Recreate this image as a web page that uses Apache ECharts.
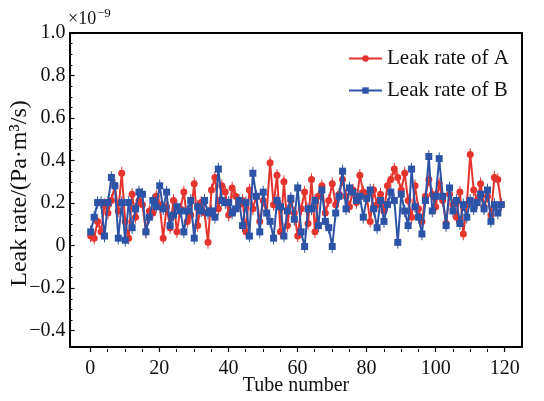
<!DOCTYPE html>
<html>
<head>
<meta charset="utf-8">
<script src="https://cdn.jsdelivr.net/npm/echarts@6/dist/echarts.min.js"></script>
<style>html,body{margin:0;padding:0;background:#fff}#c{width:544px;height:401px}</style>
</head>
<body>
<div id="c"></div>
<script>
const seriesNames = ['Leak rate of A', 'Leak rate of B'];
const xTickLabels = [0, 20, 40, 60, 80, 100, 120];
const yTickLabels = [-0.4, -0.2, 0, 0.2, 0.4, 0.6, 0.8, 1.0];
const tubeNumbers = Array.from({length: 120}, (_, i) => i);
const leakA = [0.03,0.02,0.10,0.05,0.18,0.14,0.20,0.27,0.15,0.33,
  0.10,0.02,0.23,0.12,0.20,0.18,0.05,0.15,0.14,0.22,
  0.18,0.02,0.17,0.07,0.20,0.05,0.16,0.24,0.10,0.13,
  0.28,0.08,0.19,0.14,0.00,0.25,0.31,0.16,0.27,0.24,
  0.13,0.26,0.22,0.18,0.20,0.05,0.25,0.16,0.22,0.10,
  0.20,0.14,0.38,0.18,0.32,0.05,0.29,0.08,0.20,0.14,
  0.03,0.16,0.24,0.09,0.30,0.05,0.22,0.27,0.14,0.20,
  0.28,0.18,0.23,0.30,0.22,0.17,0.25,0.19,0.32,0.24,
  0.22,0.10,0.25,0.18,0.23,0.15,0.27,0.30,0.35,0.31,
  0.25,0.33,0.20,0.12,0.27,0.16,0.10,0.22,0.30,0.23,
  0.17,0.28,0.20,0.09,0.23,0.18,0.12,0.24,0.04,0.18,
  0.42,0.25,0.20,0.28,0.17,0.22,0.13,0.31,0.30,0.18];
const leakB = [0.05,0.12,0.19,0.19,0.03,0.19,0.31,0.27,0.02,0.19,
  0.01,0.19,0.07,0.16,0.24,0.23,0.05,0.12,0.20,0.17,
  0.27,0.16,0.24,0.08,0.13,0.17,0.15,0.05,0.15,0.20,
  0.02,0.17,0.15,0.20,0.14,0.15,0.12,0.35,0.20,0.19,
  0.19,0.14,0.16,0.20,0.08,0.19,0.03,0.33,0.22,0.05,
  0.24,0.14,0.10,0.02,0.20,0.17,0.03,0.15,0.21,0.11,
  0.26,0.05,-0.02,0.16,0.16,0.20,0.08,0.25,0.10,0.07,
  -0.02,0.14,0.22,0.34,0.16,0.26,0.24,0.20,0.22,0.12,
  0.21,0.25,0.16,0.07,0.20,0.10,0.18,0.24,0.20,0.00,
  0.23,0.15,0.08,0.35,0.17,0.12,0.04,0.20,0.41,0.15,
  0.22,0.40,0.22,0.08,0.26,0.15,0.20,0.09,0.18,0.12,
  0.20,0.16,0.19,0.23,0.16,0.25,0.10,0.18,0.14,0.18];
const errorHalf = 0.03;

const RED = '#e5332e', BLUE = '#2d53a6';
const FONT = 'Liberation Serif';

// layout
const G = {left: 69.5, right: 22, top: 33, bottom: 49};
const xMin = -6, xMax = 125, yMin = -0.5, yMax = 1.0;
const W = 544, H = 401;
const gw = W - G.left - G.right, gh = H - G.top - G.bottom;
const px = v => G.left + (v - xMin) / (xMax - xMin) * gw;
const py = v => G.top + (yMax - v) / (yMax - yMin) * gh;

const pairs = arr => tubeNumbers.map((t, i) => [t, arr[i]]);

function errSeries(arr, color) {
  return {
    type: 'custom', xAxisIndex: 0, yAxisIndex: 0, z: 1, silent: true,
    data: pairs(arr),
    renderItem: (params, api) => {
      const x = api.value(0), y = api.value(1);
      const p1 = api.coord([x, y + errorHalf]);
      const p2 = api.coord([x, y - errorHalf]);
      return {type: 'line', shape: {x1: p1[0], y1: p1[1], x2: p2[0], y2: p2[1]},
        style: {stroke: color, lineWidth: 1}};
    }
  };
}

const fmtY = v => (Math.abs(v) < 1e-9 ? '0' : v.toFixed(1).replace('-', '\u2212'));

const option = {
  backgroundColor: '#fff',
  animation: false,
  textStyle: {fontFamily: FONT},
  grid: [
    {left: G.left, right: G.right, top: G.top, bottom: G.bottom, show: true, borderColor: '#000', borderWidth: 2, containLabel: false},
    {left: G.left, right: G.right, top: G.top, bottom: H - py(yTickLabels[0]), containLabel: false},
    {left: px(xTickLabels[0]), right: W - px(xTickLabels[xTickLabels.length - 1]), top: G.top, bottom: G.bottom, containLabel: false}
  ],
  xAxis: [
    {gridIndex: 0, type: 'value', min: xMin, max: xMax, axisLine: {show: false, onZero: false}, axisTick: {show: false}, axisLabel: {show: false}, splitLine: {show: false},
      name: 'Tube number', nameLocation: 'middle', nameGap: 29, nameTextStyle: {fontFamily: FONT, fontSize: 20, color: '#111'}},
    {gridIndex: 1, type: 'value', min: xMin, max: xMax, show: false, axisLine: {onZero: false}},
    {gridIndex: 2, type: 'value', min: xTickLabels[0], max: xTickLabels[xTickLabels.length - 1], interval: 20,
      axisLine: {show: false, onZero: false}, splitLine: {show: false},
      axisTick: {show: true, inside: true, length: 5, lineStyle: {color: '#000', width: 1.2}},
      minorTick: {show: true, splitNumber: 4, length: 3, lineStyle: {color: '#000', width: 1}},
      axisLabel: {margin: 7, fontFamily: FONT, fontSize: 20, color: '#111'}}
  ],
  yAxis: [
    {gridIndex: 0, type: 'value', min: yMin, max: yMax, axisLine: {show: false, onZero: false}, axisTick: {show: false}, axisLabel: {show: false}, splitLine: {show: false},
      name: 'Leak rate/(Pa\u00b7m\u00b3/s)', nameLocation: 'middle', nameGap: 38, nameTextStyle: {fontFamily: FONT, fontSize: 24, color: '#111', padding: [0, 7, 0, 0]}},
    {gridIndex: 1, type: 'value', min: yTickLabels[0], max: yTickLabels[yTickLabels.length - 1], interval: 0.2,
      axisLine: {show: false, onZero: false}, splitLine: {show: false},
      axisTick: {show: true, inside: true, length: 5, lineStyle: {color: '#000', width: 1.2}},
      minorTick: {show: true, splitNumber: 4, length: 3, lineStyle: {color: '#000', width: 1}},
      axisLabel: {margin: 4, fontFamily: FONT, fontSize: 20, color: '#111', formatter: fmtY}},
    {gridIndex: 2, type: 'value', min: yMin, max: yMax, show: false, axisLine: {onZero: false}}
  ],
  legend: {
    orient: 'vertical', left: 343, top: 43, itemWidth: 33, itemHeight: 8, itemGap: 11,
    textStyle: {fontFamily: FONT, fontSize: 21, color: '#111'},
    data: seriesNames
  },
  graphic: [
    {type: 'text', left: 68, top: 10, style: {text: '\u00d710', font: '18px "Liberation Serif"', fill: '#111'}},
    {type: 'text', left: 97, top: 7, style: {text: '\u22129', font: '13px "Liberation Serif"', fill: '#111'}}
  ],
  series: [
    errSeries(leakA, RED),
    errSeries(leakB, BLUE),
    {name: seriesNames[0], type: 'line', xAxisIndex: 0, yAxisIndex: 0, z: 2, data: pairs(leakA),
      symbol: 'circle', symbolSize: 7, showAllSymbol: true,
      lineStyle: {color: RED, width: 2}, itemStyle: {color: RED}},
    {name: seriesNames[1], type: 'line', xAxisIndex: 0, yAxisIndex: 0, z: 3, data: pairs(leakB),
      symbol: 'rect', symbolSize: 7, showAllSymbol: true,
      lineStyle: {color: BLUE, width: 2}, itemStyle: {color: BLUE}}
  ]
};
echarts.init(document.getElementById('c'), null, {renderer: 'canvas'}).setOption(option);
</script>
</body>
</html>
